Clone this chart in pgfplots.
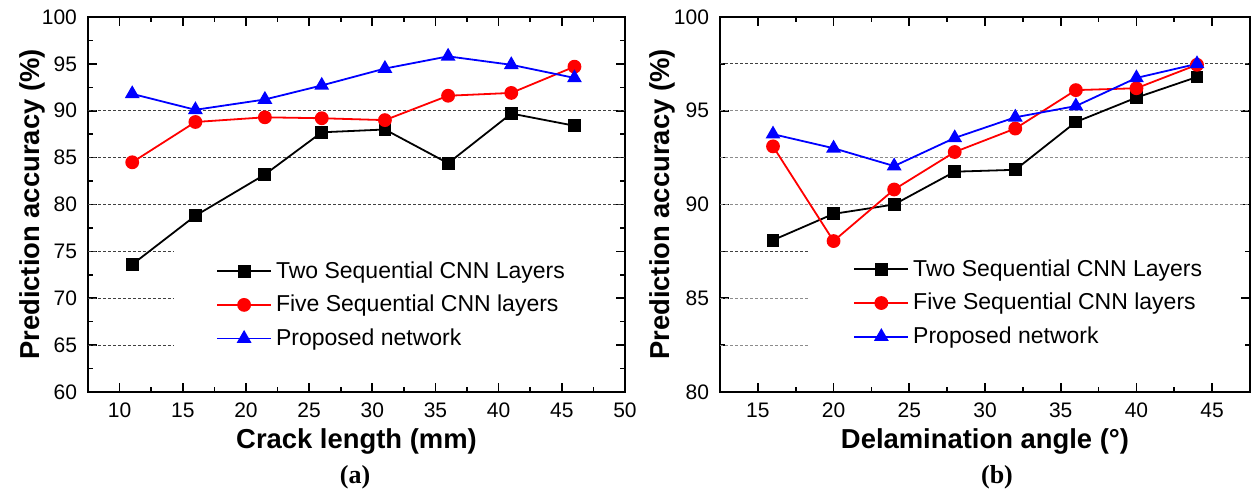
\documentclass[border=0pt]{standalone}
\usepackage{pgfplots}
\usepackage{pgfplotstable}
\pgfplotsset{compat=1.18}
\usepackage{fontspec}
\setmainfont{Liberation Sans}
\newfontfamily\timesfont{Liberation Serif}

\pgfplotstableread{
x    two   five   prop
11   73.6  84.5   91.8
16   78.8  88.8   90.1
21.5 83.2  89.3   91.2
26   87.7  89.2   92.7
31   88.0  89.0   94.5
36   84.4  91.6   95.8
41   89.7  91.9   94.9
46   88.4  94.7   93.5
}\crackdata

\pgfplotstableread{
x    two    five   prop
16   88.1   93.1   93.75
20   89.5   88.05  93.0
24   90.0   90.8   92.05
28   91.75  92.8   93.55
32   91.85  94.05  94.65
36   94.4   96.1   95.25
40   95.7   96.2   96.75
44   96.8   97.45  97.5
}\angledata

\tikzset{
  gl/.style={line width=0.5pt, dash pattern=on 1.5pt off 1pt, black!75},
  glg/.style={line width=0.5pt, dash pattern=on 1.5pt off 1pt, black!45},
}

\pgfplotsset{
  myaxis/.style={
    scale only axis,
    height=187.5pt,
    axis line style={line width=1pt},
    tick align=inside,
    tick style={black, line width=0.8pt},
    major tick length=4.5pt,
    minor tick length=2.5pt,
    minor tick num=1,
    xtick pos=both, ytick pos=both,
    ticklabel style={font=\fontsize{10.5}{12}\selectfont},
    xticklabel style={yshift=-2pt},
    yticklabel style={xshift=-2pt},
    /pgf/number format/assume math mode=true,
    label style={font=\bfseries\fontsize{13.7}{16}\selectfont},
    legend cell align=left,
    legend style={draw=none, fill=none, inner sep=0pt,
      font=\fontsize{11.5}{13}\selectfont, row sep=3pt,
      /tikz/every even column/.append style={column sep=3.5pt}},
    legend image code/.code={\draw[mark repeat=2,mark phase=2]
      plot coordinates {(0pt,0pt)(13.5pt,0pt)(27pt,0pt)};},
  },
  sblack/.style={black, line width=0.9pt, mark=square*, mark size=2.75pt, mark options={solid}},
  sred/.style={red, line width=0.9pt, mark=*, mark size=3pt, mark options={solid}},
  sblue/.style={blue, line width=0.9pt, mark=triangle*, mark size=3.4pt, mark options={solid}},
}

\begin{document}
\begin{tikzpicture}
\useasboundingbox (0,0) rectangle (626.5pt,245.5pt);

\begin{axis}[myaxis,
  at={(44pt,49.5pt)}, anchor=south west,
  width=268.5pt,
  xmin=7.5, xmax=50, ymin=60, ymax=100,
  xtick={10,15,...,50}, ytick={60,65,...,100},
  xlabel={Crack length (mm)},
  ylabel={Prediction accuracy (\%)},
  xlabel style={at={(axis description cs:0.5,-0.133)}, anchor=center},
  ylabel style={at={(axis description cs:-0.104,0.5)}, anchor=center},
  legend style={at={(axis description cs:0.238,0.36)}, anchor=north west},
]
\draw[gl] (axis cs:7.5,90) -- (axis cs:50,90);
\draw[gl] (axis cs:7.5,85) -- (axis cs:50,85);
\draw[gl] (axis cs:7.5,80) -- (axis cs:50,80);
\draw[gl] (axis cs:7.5,75) -- (axis cs:14.3,75);
\draw[gl] (axis cs:7.5,70) -- (axis cs:14.3,70);
\draw[gl] (axis cs:7.5,65) -- (axis cs:14.3,65);
\addplot[sblack] table[x=x,y=two] {\crackdata};
\addlegendentry{Two Sequential CNN Layers}
\addplot[sred] table[x=x,y=five] {\crackdata};
\addlegendentry{Five Sequential CNN layers}
\addplot[sblue] table[x=x,y=prop] {\crackdata};
\addlegendentry{Proposed network}
\end{axis}

\begin{axis}[myaxis,
  at={(360pt,49.5pt)}, anchor=south west,
  width=265pt,
  xmin=12.5, xmax=47.5, ymin=80, ymax=100,
  xtick={15,20,...,45}, ytick={80,85,...,100},
  xlabel={Delamination angle (°)},
  ylabel={Prediction accuracy (\%)},
  xlabel style={at={(axis description cs:0.5,-0.133)}, anchor=center},
  ylabel style={at={(axis description cs:-0.109,0.5)}, anchor=center},
  legend style={at={(axis description cs:0.251,0.365)}, anchor=north west},
]
\draw[gl] (axis cs:12.5,97.5) -- (axis cs:47.5,97.5);
\draw[glg] (axis cs:12.5,95) -- (axis cs:47.5,95);
\draw[glg] (axis cs:12.5,92.5) -- (axis cs:47.5,92.5);
\draw[glg] (axis cs:12.5,90) -- (axis cs:47.5,90);
\draw[gl] (axis cs:12.5,87.5) -- (axis cs:18.4,87.5);
\draw[glg] (axis cs:12.5,85) -- (axis cs:18.4,85);
\draw[glg] (axis cs:12.5,82.5) -- (axis cs:18.4,82.5);
\addplot[sblack] table[x=x,y=two] {\angledata};
\addlegendentry{Two Sequential CNN Layers}
\addplot[sred] table[x=x,y=five] {\angledata};
\addlegendentry{Five Sequential CNN layers}
\addplot[sblue] table[x=x,y=prop] {\angledata};
\addlegendentry{Proposed network}
\end{axis}

\node[font=\timesfont\bfseries\fontsize{13}{15}\selectfont] at (177.5pt,7pt) {(a)};
\node[font=\timesfont\bfseries\fontsize{13}{15}\selectfont] at (498.5pt,7pt) {(b)};
\end{tikzpicture}
\end{document}
